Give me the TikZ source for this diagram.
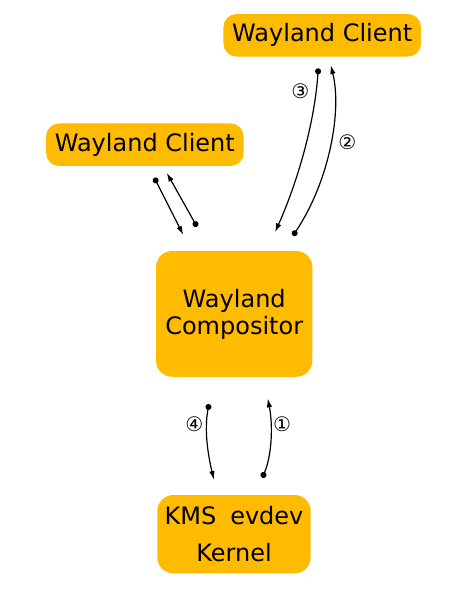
\documentclass[tikz,border=0pt]{standalone}
\usepackage{fontspec}
\setmainfont{DejaVu Sans}
\usepackage{tikz}
\usetikzlibrary{positioning, arrows.meta}
\definecolor{boxYellow}{HTML}{FFBB00}
\tikzstyle{boxNode}=[fill=boxYellow, rounded corners=13pt, inner sep=0pt, align=center, font=\fontsize{24}{27}\selectfont]
\tikzstyle{msgArrow}=[{Circle[length=6pt]}-{Latex[length=9pt,width=5.5pt]}, line width=1.2pt]
\tikzstyle{stepLabel}=[inner sep=0pt, font=\fontsize{20}{20}\selectfont]

\begin{document}
\begin{tikzpicture}[x=1pt, y=-1pt]
    \useasboundingbox (0,0) rectangle (467,597);

    \node[boxNode, minimum width=197.5pt, minimum height=42.5pt] (client1) at (322.2,35.3) {Wayland Client};
    \node[boxNode, minimum width=197.5pt, minimum height=42.5pt] (client2) at (144.8,144.7) {Wayland Client};
    \node[boxNode, minimum width=156.3pt, minimum height=125.7pt, rounded corners=16pt] (comp) at (234.2,313.9) {Wayland\\Compositor};
    \node[boxNode, minimum width=153.4pt, minimum height=78.3pt, rounded corners=16pt, font=\fontsize{24}{37}\selectfont] (kernel) at (234,534.2) {KMS\hspace{14pt}evdev\\Kernel};

    \coordinate (l1s) at (154.3,177.7);
    \coordinate (l1e) at (183.3,235);
    \coordinate (l2s) at (197,226.7);
    \coordinate (l2e) at (166.7,172.7);
    \coordinate (r3s) at (318.3,68.3);
    \coordinate (r3e) at (275,232.3);
    \coordinate (r2s) at (293,235.7);
    \coordinate (r2e) at (330.7,65);
    \coordinate (k4s) at (209,404);
    \coordinate (k4e) at (214,480);
    \coordinate (k1s) at (262.3,477.7);
    \coordinate (k1e) at (267.7,398.3);

    \draw[msgArrow] (l1s) -- (l1e);
    \draw[msgArrow] (l2s) -- (l2e);
    \draw[msgArrow] (r3s) .. controls (314,130) and (294,190) .. (r3e);
    \draw[msgArrow] (r2s) .. controls (330,180) and (342,110) .. (r2e);
    \draw[msgArrow] (k4s) .. controls (204,430) and (208,455) .. (k4e);
    \draw[msgArrow] (k1s) .. controls (272,455) and (273,425) .. (k1e);

    \node[stepLabel] (n3) at (300.3,91.7) {③};
    \node[stepLabel] (n2) at (347.3,142) {②};
    \node[stepLabel] (n4) at (194.3,424) {④};
    \node[stepLabel] (n1) at (282,424) {①};

  \end{tikzpicture}
\end{document}
